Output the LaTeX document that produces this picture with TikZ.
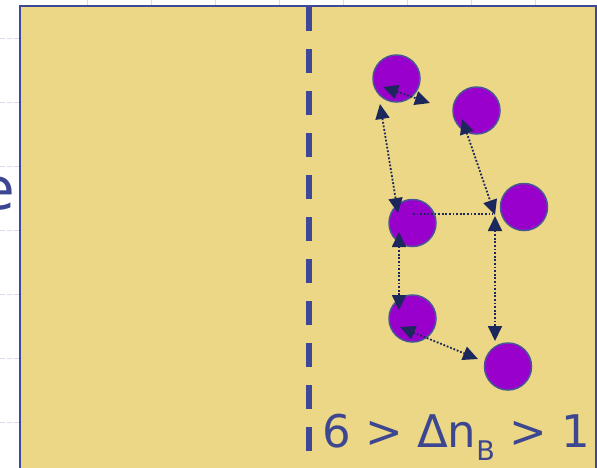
\documentclass[tikz,border=0pt]{standalone}
\usepackage{fontspec}
\setmainfont{DejaVu Sans}
\usetikzlibrary{arrows.meta}
\definecolor{fondo}{RGB}{235,215,133}
\definecolor{azul}{RGB}{62,72,150}
\definecolor{morado}{RGB}{153,0,204}
\definecolor{bordebola}{RGB}{72,86,150}
\definecolor{marino}{RGB}{28,40,92}
\definecolor{texto}{RGB}{60,70,145}
\definecolor{guia}{RGB}{212,218,245}
\tikzset{
  marco/.style={draw=azul, line width=2.3pt, fill=fondo},
  limite/.style={draw=azul, line width=6pt, dash pattern=on 24pt off 18pt},
  rejilla/.style={draw=guia, line width=1pt, dash pattern=on 5pt off 2pt},
  bola/.style={circle, draw=bordebola, fill=morado, line width=1.5pt,
               minimum size=47pt, inner sep=0pt},
  punteado/.style={draw=marino, line width=1.8pt, dash pattern=on 1.8pt off 1.8pt},
  enlace/.style={punteado, {Triangle[length=15pt,width=14pt]}-{Triangle[length=15pt,width=14pt]}},
  rotulo/.style={text=texto, inner sep=0pt, font=\fontsize{45}{50}\selectfont}
}
\begin{document}
\begin{tikzpicture}[x=1pt, y=-1pt]
  \useasboundingbox (0,0) rectangle (597,467);
  % margen con guias
  \foreach \y in {38,102,...,430} \draw[rejilla] (0,\y) -- (19,\y);
  \foreach \x in {87,151,...,540} \draw[rejilla] (\x,0) -- (\x,5);
  \node[text=texto, inner sep=0pt, anchor=base east,
        font=\fontsize{58}{62}\selectfont] (letra) at (15,209) {e};

  % caja y frontera
  \path[marco] (20,6) rectangle (596,480);
  \draw[limite] (308.5,7) -- (308.5,480);

  % bolas
  \node[bola] (c1) at (396.5,78.5) {};
  \node[bola] (c2) at (476.5,110.5) {};
  \node[bola] (c3) at (412.5,223) {};
  \node[bola] (c4) at (524,207) {};
  \node[bola] (c5) at (412.5,318.5) {};
  \node[bola] (c6) at (508,366.5) {};

  % extremos de los enlaces
  \coordinate (a1) at (383,87);   \coordinate (a2) at (430,103);
  \coordinate (b1) at (380,104);  \coordinate (b2) at (398,213);
  \coordinate (d1) at (462,119);  \coordinate (d2) at (495,215);
  \coordinate (e1) at (495,216);  \coordinate (e2) at (495,341);
  \coordinate (f1) at (399,232);  \coordinate (f2) at (399,310);
  \coordinate (g1) at (400,327);  \coordinate (g2) at (478,359);
  \coordinate (h1) at (413,214);  \coordinate (h2) at (493,214);
  \draw[enlace] (a1) -- (a2);
  \draw[enlace] (b1) -- (b2);
  \draw[enlace] (d1) -- (d2);
  \draw[punteado] (h1) -- (h2);
  \draw[enlace] (e1) -- (e2);
  \draw[enlace] (f1) -- (f2);
  \draw[enlace] (g1) -- (g2);

  \node[rotulo, anchor=base west] (cond) at (322,447)
    {6 > Δn\raisebox{-13pt}{\fontsize{27}{30}\selectfont B} > 1};
\end{tikzpicture}
\end{document}
